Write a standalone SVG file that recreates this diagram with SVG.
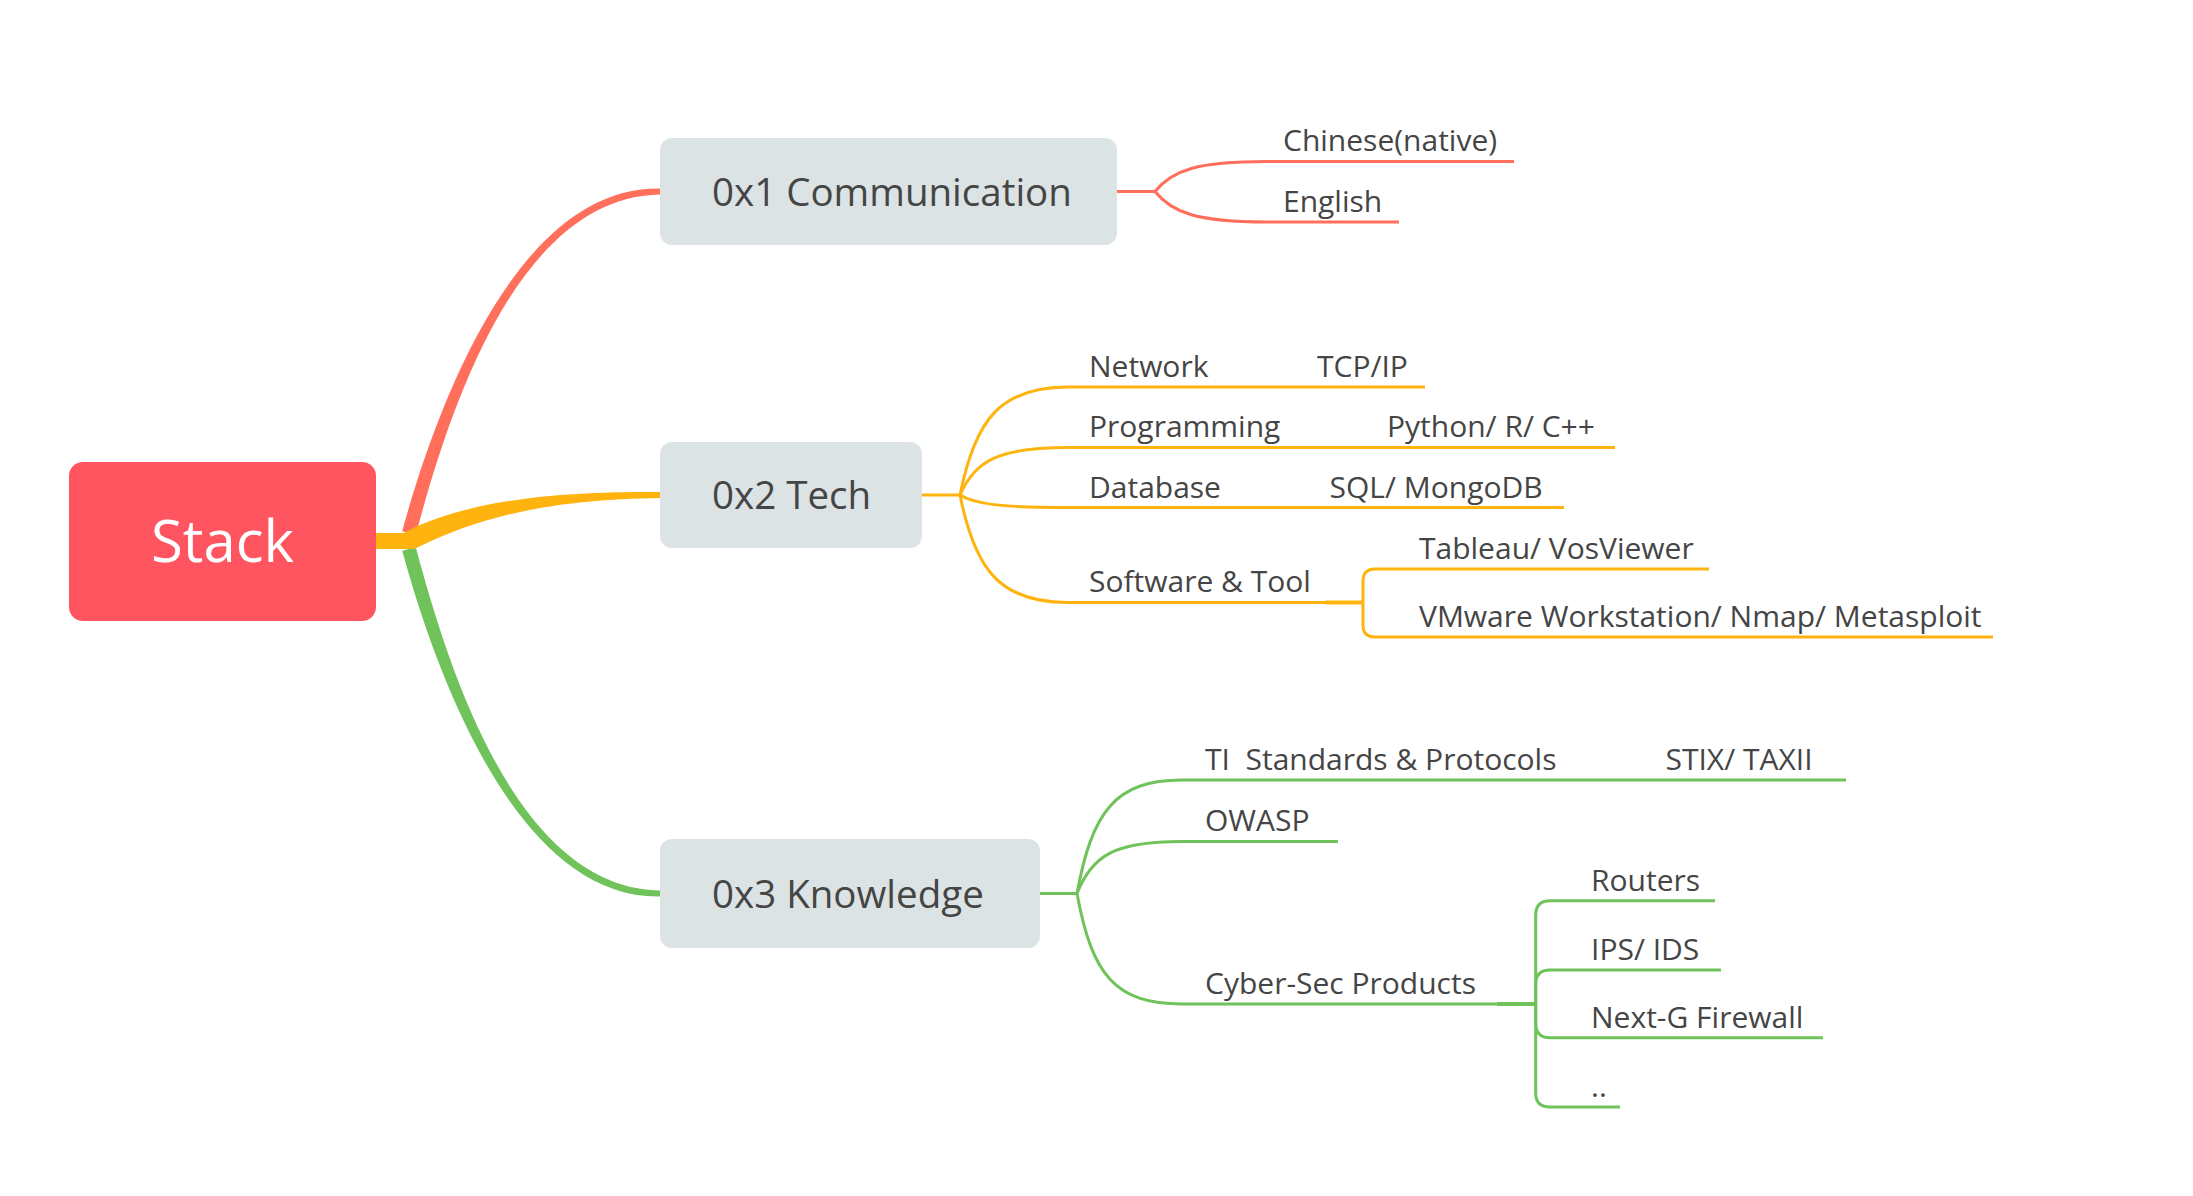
<svg xmlns="http://www.w3.org/2000/svg" width="2193" height="1196" viewBox="0 0 2193 1196">
<style>
.topic{fill:#DCE3E4}
.tt{font-family:"Open Sans","Liberation Sans",sans-serif;font-size:38.5px;fill:#454545}
.lt{font-family:"Open Sans","Liberation Sans",sans-serif;font-size:30px;fill:#454545;white-space:pre}
.r{fill:none;stroke:#FF6F5B;stroke-width:3;stroke-linecap:butt}
.y{fill:none;stroke:#FFB30F;stroke-width:3;stroke-linecap:butt}
.g{fill:none;stroke:#6FC35A;stroke-width:3;stroke-linecap:butt}
</style>
<rect width="2193" height="1196" fill="#FFFFFF"/>
<g id="connectors">
  <!-- main tapered branches -->
  <path d="M402.2,531.2 C438.7,398.3 520,186 660,188.5 L660,194.5 C520,197 451.3,401.7 415.8,534.8 Z" fill="#FF6F5B"/>
  <path d="M402.2,550.8 C438.7,683.7 520,899 660,896.5 L660,890.5 C520,888 451.3,680.3 415.8,547.2 Z" fill="#6FC35A"/>
  <rect x="375" y="533" width="37" height="16" fill="#FFB30F"/>
  <path d="M404.5,532.5 C447,510 520,490.5 660,492 L660,498 C520,499.5 453,530 413.5,549.5 Z" fill="#FFB30F"/>
  <!-- red sub-branches -->
  <path class="r" d="M1117,191.5 L1155,191.5"/>
  <path class="r" d="M1155,191.5 C1172,170 1198,161.5 1266,161.5 L1514,161.5"/>
  <path class="r" d="M1155,191.5 C1172,213 1198,222 1266,222 L1399,222"/>
  <!-- yellow sub-branches -->
  <path class="y" d="M922,495 L960,495"/>
  <path class="y" d="M960,495 C975,420 1000,387 1068,387 L1425,387"/>
  <path class="y" d="M960,495 C975,460 1000,447.5 1068,447.5 L1615,447.5"/>
  <path class="y" d="M960,495 C975,504 1000,507.5 1068,507.5 L1564,507.5"/>
  <path class="y" d="M960,495 C975,570 1000,602.5 1068,602.5 L1363,602.5"/>
  <path class="y" style="stroke-width:4" d="M1325,602.5 L1363,602.5"/>
  <path class="y" d="M1363,602.5 L1363,581 Q1363,569 1375,569 L1709,569"/>
  <path class="y" d="M1363,602.5 L1363,625 Q1363,637 1375,637 L1993,637"/>
  <!-- green sub-branches -->
  <path class="g" d="M1040,893.5 L1077,893.5"/>
  <path class="g" d="M1077,893.5 C1092,812 1115,780 1182,780 L1846,780"/>
  <path class="g" d="M1077,893.5 C1092,855 1115,841.5 1182,841.5 L1338,841.5"/>
  <path class="g" d="M1077,893.5 C1092,975 1115,1004 1182,1004 L1535.7,1004"/>
  <path class="g" style="stroke-width:4" d="M1497,1004 L1535.7,1004"/>
  <path class="g" d="M1535.7,1004 L1535.7,915 Q1535.7,900.7 1550,900.7 L1715,900.7"/>
  <path class="g" d="M1535.7,1004 L1535.7,984 Q1535.7,970 1550,970 L1721,970"/>
  <path class="g" d="M1535.7,1004 L1535.7,1023.5 Q1535.7,1037.7 1550,1037.7 L1823,1037.7"/>
  <path class="g" d="M1535.7,1004 L1535.7,1093 Q1535.7,1107 1550,1107 L1620,1107"/>
</g>
<g id="stack">
  <rect x="69" y="462" width="307" height="159" rx="14" fill="#FF5561"/>
  <text x="222.5" y="562" text-anchor="middle" font-family="'Open Sans','Liberation Sans',sans-serif" font-size="58" fill="#FFFFFF">Stack</text>
</g>
<g id="communication">
  <rect class="topic" x="660" y="138" width="457" height="107" rx="12"/>
  <text class="tt" x="712" y="206">0x1 Communication</text>
</g>
<g id="tech">
  <rect class="topic" x="660" y="442" width="262" height="106" rx="12"/>
  <text class="tt" x="712" y="509">0x2 Tech</text>
</g>
<g id="knowledge">
  <rect class="topic" x="660" y="839" width="380" height="109" rx="12"/>
  <text class="tt" x="712" y="907.5">0x3 Knowledge</text>
</g>
<g id="chinese"><text class="lt" x="1283" y="151">Chinese(native)</text></g>
<g id="english"><text class="lt" x="1283" y="211.5">English</text></g>
<g id="network"><text class="lt" x="1089" y="377">Network</text></g>
<g id="tcpip"><text class="lt" x="1317" y="377">TCP/IP</text></g>
<g id="programming"><text class="lt" x="1089" y="437">Programming</text></g>
<g id="python"><text class="lt" x="1387" y="437">Python/ R/ C++</text></g>
<g id="database"><text class="lt" x="1089" y="497.5">Database</text></g>
<g id="sql"><text class="lt" x="1329.5" y="497.5">SQL/ MongoDB</text></g>
<g id="software"><text class="lt" x="1089" y="592">Software &amp; Tool</text></g>
<g id="tableau"><text class="lt" x="1419" y="558.5">Tableau/ VosViewer</text></g>
<g id="vmware"><text class="lt" x="1419" y="626.5">VMware Workstation/ Nmap/ Metasploit</text></g>
<g id="ti"><text class="lt" x="1205" y="770">TI  Standards &amp; Protocols</text></g>
<g id="stix"><text class="lt" x="1665.5" y="770">STIX/ TAXII</text></g>
<g id="owasp"><text class="lt" x="1205" y="831">OWASP</text></g>
<g id="cybersec"><text class="lt" x="1205" y="994">Cyber-Sec Products</text></g>
<g id="routers"><text class="lt" x="1591" y="890.5">Routers</text></g>
<g id="ipsids"><text class="lt" x="1591" y="960">IPS/ IDS</text></g>
<g id="nextg"><text class="lt" x="1591" y="1027.5">Next-G Firewall</text></g>
<g id="more"><text class="lt" x="1591" y="1097">..</text></g>
</svg>
